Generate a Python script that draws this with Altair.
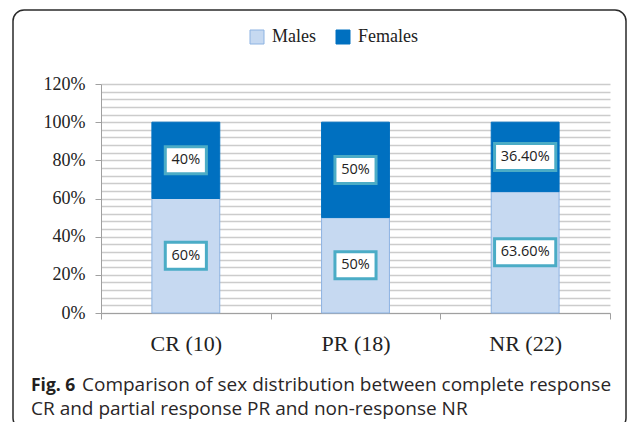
import altair as alt
import pandas as pd

# ---- data ----
categories = ["CR (10)", "PR (18)", "NR (22)"]
series = ["Males", "Females"]
males = [60, 50, 63.6]
females = [40, 50, 36.4]
male_labels = ["60%", "50%", "63.60%"]
female_labels = ["40%", "50%", "36.40%"]
y_ticks = list(range(0, 121, 4))
caption_bold = ["Fig. 6"]
caption_line1 = ["Comparison of sex distribution between complete response"]
caption_line2 = ["CR and partial response PR and non-response NR"]

rows = []
for i, c in enumerate(categories):
    m, f = males[i], females[i]
    rows.append(dict(group=c, sex="Males", start=0, end=m, mid=m / 2, label=male_labels[i]))
    rows.append(dict(group=c, sex="Females", start=m, end=m + f, mid=m + f / 2, label=female_labels[i]))
df = pd.DataFrame(rows)


def box_path(label):
    hw = (6.7 * len(label) + 21) / 2
    hh = 13.5
    return f"M{-hw},{-hh}H{hw}V{hh}H{-hw}Z"


df["box"] = df["label"].map(box_path)

W, H = 509, 229
SERIF = "Liberation Serif"
SANS = "Open Sans"

yscale = alt.Scale(domain=[0, 120], nice=False)
y_axis = alt.Axis(
    values=y_ticks,
    title=None,
    labelExpr="datum.value % 20 == 0 ? datum.value + '%' : ''",
    labelOverlap=False,
    tickOpacity={"condition": {"test": "datum.value % 20 == 0", "value": 1}, "value": 0},
    grid=True,
    gridColor="#cccccc",
    gridWidth=1.7,
    domainColor="#a0a0a0",
    tickColor="#a0a0a0",
    tickSize=6,
    labelFont=SERIF,
    labelFontSize=18,
    labelColor="#222222",
    labelPadding=10,
)
x_enc = alt.X(
    "group:N",
    sort=categories,
    scale=alt.Scale(paddingInner=0, paddingOuter=0),
    axis=alt.Axis(
        title=None,
        labelAngle=0,
        tickBand="extent",
        tickSize=6,
        grid=False,
        domainColor="#a0a0a0",
        tickColor="#a0a0a0",
        labelFont=SERIF,
        labelFontSize=22,
        labelColor="#222222",
        labelPadding=14,
    ),
)

base = alt.Chart(df).encode(x=x_enc)

bars = base.mark_bar(width=alt.RelativeBandSize(0.4), strokeWidth=1).encode(
    y=alt.Y("start:Q", scale=yscale, axis=y_axis),
    y2="end:Q",
    color=alt.Color(
        "sex:N",
        sort=series,
        scale=alt.Scale(domain=series, range=["#c6d9f1", "#0070c0"]),
        legend=alt.Legend(
            orient="none",
            legendX=147,
            legendY=-56,
            direction="horizontal",
            title=None,
            symbolType="square",
            symbolSize=196,
            symbolStrokeColor="#8db3e2",
            symbolStrokeWidth=1,
            labelFont=SERIF,
            labelFontSize=18,
            labelColor="#222222",
            labelOffset=6,
            columnPadding=18,
        ),
    ),
    stroke=alt.Stroke(
        "sex:N",
        scale=alt.Scale(domain=series, range=["#8db3e2", "#0070c0"]),
        legend=None,
    ),
)

boxes = base.mark_point(
    filled=True, fill="white", stroke="#4bacc6", strokeWidth=3, opacity=1
).encode(
    y=alt.Y("mid:Q", scale=yscale, axis=y_axis),
    shape=alt.Shape("box:N", scale=None, legend=None),
    size=alt.value(4),
)

labels = base.mark_text(
    font=SANS, fontSize=14.5, color="#222222", baseline="middle", align="center"
).encode(
    y=alt.Y("mid:Q", scale=yscale, axis=y_axis),
    text="label:N",
)

frame = alt.Chart(pd.DataFrame({"k": [0]})).mark_rect(
    fillOpacity=0, stroke="#2a2a2a", strokeWidth=1.5, cornerRadius=11
).encode(
    x=alt.value(-88), x2=alt.value(525), y=alt.value(-74), y2=alt.value(345)
)

cap_bold = alt.Chart(pd.DataFrame({"t": caption_bold})).mark_text(
    font=SANS, fontSize=17.5, fontWeight="bold", color="#231f20", align="left", baseline="alphabetic"
).encode(x=alt.value(-70), y=alt.value(307), text="t:N")

cap1 = alt.Chart(pd.DataFrame({"t": caption_line1})).mark_text(
    font=SANS, fontSize=19, color="#2a2627", align="left", baseline="alphabetic"
).encode(x=alt.value(-19), y=alt.value(307), text="t:N")

cap2 = alt.Chart(pd.DataFrame({"t": caption_line2})).mark_text(
    font=SANS, fontSize=19, color="#2a2627", align="left", baseline="alphabetic"
).encode(x=alt.value(-70), y=alt.value(331), text="t:N")

chart = (
    alt.layer(frame, bars, boxes, labels, cap_bold, cap1, cap2)
    .properties(
        width=W,
        height=H,
        autosize=alt.AutoSizeParams(type="none"),
        padding={"left": 93, "top": 76, "right": 17, "bottom": 109},
        background="white",
    )
    .configure_view(stroke=None)
)

chart.save("out.html", embed_options={"renderer": "svg", "actions": False})
